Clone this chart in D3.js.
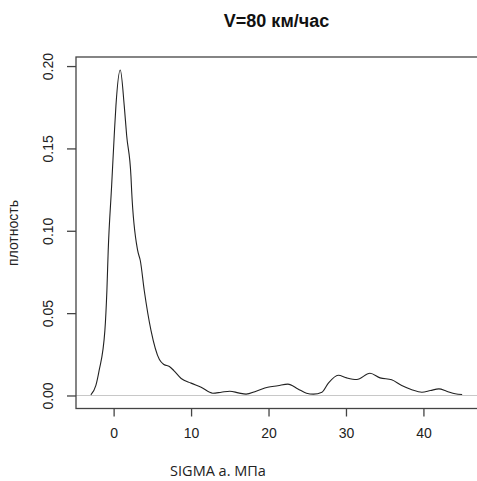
<!DOCTYPE html>
<html>
<head>
<meta charset="utf-8">
<script src="https://cdn.jsdelivr.net/npm/d3@7"></script>
<style>
  body { margin: 0; background: #fff; }
  svg { display: block; }
  .tick text { font-family: Arial, "Liberation Sans", sans-serif; fill: #222; }
</style>
</head>
<body>
<svg width="477" height="481"></svg>
<script>
// Estimated density curve (SIGMA a., density)
var sigma = [-2.94, -2.29, -1.87, -1.13, -0.87, -0.70, -0.26, 0.08, 0.30, 0.86,
             1.37, 1.68, 2.24, 2.33, 3.11, 3.45, 3.96, 4.83, 5.91, 6.5,
             7.2, 7.8, 8.72, 10.0, 11.3, 12.8, 13.9, 15.0, 16.1, 17.1,
             18.4, 19.9, 21.2, 22.5, 23.8, 24.9, 25.8, 26.9, 27.7, 29.0,
             30.1, 31.4, 33.1, 34.4, 35.9, 37.2, 38.5, 39.8, 40.9, 42.0,
             43.0, 44.1, 45.0];
var density = [0.0004, 0.0061, 0.0152, 0.0394, 0.0636, 0.0879, 0.127, 0.158, 0.176, 0.1976,
               0.176, 0.158, 0.133, 0.124, 0.0879, 0.0818, 0.0636, 0.0394, 0.0218, 0.0188,
               0.0176, 0.015, 0.0103, 0.0075, 0.005, 0.0014, 0.002, 0.0026, 0.0016, 0.0008,
               0.0026, 0.005, 0.0059, 0.0069, 0.004, 0.0014, 0.0008, 0.002, 0.0073, 0.0123,
               0.0107, 0.0097, 0.0135, 0.0107, 0.0095, 0.006, 0.0035, 0.002, 0.003, 0.004,
               0.0026, 0.001, 0.0006];

var xTicks = [0, 10, 20, 30, 40];
var yTicks = [0, 0.05, 0.10, 0.15, 0.20];

var titleText = 'V=80 км/час';
var xLabel = 'SIGMA a. МПа';
var yLabel = 'плотность';

var svg = d3.select('svg');

// plot region (R style: 4% extension around the data range)
var plot = {l: 76, r: 477, t: 57, b: 408.5};

var xExt = d3.extent(sigma);
var xPad = (xExt[1] - xExt[0]) * 0.04;
var xScale = d3.scaleLinear()
    .domain([xExt[0] - xPad, xExt[1] + xPad])
    .range([plot.l, plot.r]);

var yMax = d3.max(density);
var yPad = yMax * 0.04;
var yScale = d3.scaleLinear()
    .domain([-yPad, yMax + yPad])
    .range([plot.b, plot.t]);

// zero line
svg.append('line')
    .attr('x1', plot.l).attr('x2', plot.r)
    .attr('y1', yScale(0)).attr('y2', yScale(0))
    .attr('stroke', '#c8c8c8')
    .attr('stroke-width', 1.2);

// density curve
var points = sigma.map(function(d, i) { return [d, density[i]]; });
var line = d3.line()
    .x(function(d) { return xScale(d[0]); })
    .y(function(d) { return yScale(d[1]); })
    .curve(d3.curveMonotoneX);

svg.append('path')
    .datum(points)
    .attr('d', line)
    .attr('fill', 'none')
    .attr('stroke', '#222')
    .attr('stroke-width', 1.1);

// box
svg.append('rect')
    .attr('x', plot.l)
    .attr('y', plot.t)
    .attr('width', plot.r - plot.l + 2)
    .attr('height', plot.b - plot.t)
    .attr('fill', 'none')
    .attr('stroke', '#444')
    .attr('stroke-width', 1.3);

// x axis
var xAxisG = svg.append('g')
    .attr('transform', 'translate(0,' + plot.b + ')')
    .call(d3.axisBottom(xScale).tickValues(xTicks).tickSize(8).tickPadding(12));
xAxisG.select('.domain').remove();
xAxisG.selectAll('.tick line').attr('stroke', '#444').attr('stroke-width', 1.3);
xAxisG.selectAll('.tick text').attr('font-size', 14);

// y axis
var yAxisG = svg.append('g')
    .attr('transform', 'translate(' + plot.l + ',0)')
    .call(d3.axisLeft(yScale).tickValues(yTicks).tickSize(9)
        .tickFormat(d3.format('.2f')));
yAxisG.select('.domain').remove();
yAxisG.selectAll('.tick line').attr('stroke', '#444').attr('stroke-width', 1.3);
yAxisG.selectAll('.tick text')
    .attr('font-size', 14)
    .attr('x', null).attr('dy', null)
    .attr('text-anchor', 'middle')
    .attr('transform', 'translate(-28,0) rotate(-90)')
    .attr('dy', '0.35em');

// title
svg.append('text')
    .attr('x', (plot.l + plot.r) / 2)
    .attr('y', 27)
    .attr('text-anchor', 'middle')
    .attr('font-family', 'Arial, "Liberation Sans", sans-serif')
    .attr('font-weight', 'bold')
    .attr('font-size', 18)
    .attr('fill', '#111')
    .text(titleText);

// axis labels
svg.append('text')
    .attr('x', 218)
    .attr('y', 476)
    .attr('text-anchor', 'middle')
    .attr('font-family', '"Open Sans", sans-serif')
    .attr('font-size', 14.5)
    .attr('fill', '#222')
    .text(xLabel);

svg.append('text')
    .attr('transform', 'translate(18,233) rotate(-90)')
    .attr('text-anchor', 'middle')
    .attr('font-family', 'Arial, "Liberation Sans", sans-serif')
    .attr('font-size', 14)
    .attr('fill', '#222')
    .text(yLabel);
</script>
</body>
</html>
